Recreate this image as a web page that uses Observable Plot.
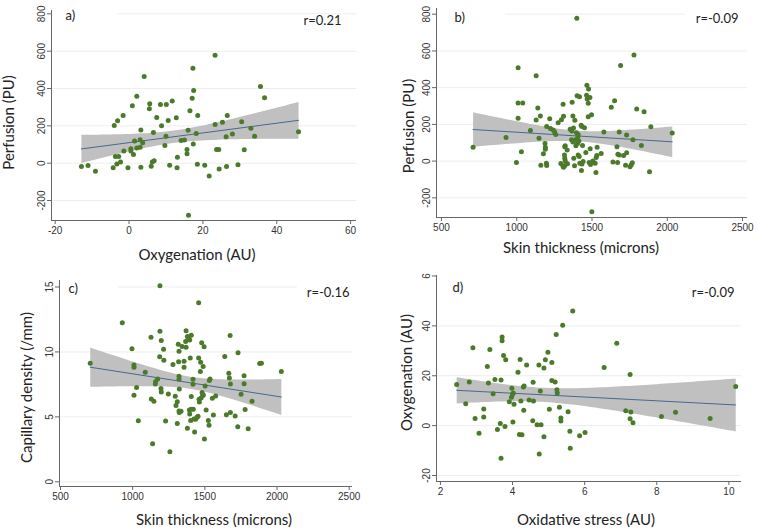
<!DOCTYPE html>
<html>
<head>
<meta charset="utf-8">
<script src="https://cdn.jsdelivr.net/npm/d3@7"></script>
<script src="https://cdn.jsdelivr.net/npm/@observablehq/plot@0.6"></script>
<style>
  body { margin: 0; background: #fff; }
  #wrap { position: relative; width: 758px; height: 530px; background: #fff; overflow: hidden; }
  .panel { position: absolute; }
</style>
</head>
<body>
<div id="wrap">
  <div class="panel" id="pa" style="left:0px;top:0px"></div>
  <div class="panel" id="pb" style="left:378px;top:0px"></div>
  <div class="panel" id="pc" style="left:0px;top:265px"></div>
  <div class="panel" id="pd" style="left:378px;top:265px"></div>
</div>
<script>
// ---- Data: [x, y] pairs ----
// a) Oxygenation (AU) vs Perfusion (PU)
const panelAData = [
  [-12.9,-18],[-11.1,-13],[-9.1,-43],[-4.0,202],[-3.1,227],[-1.6,256],[-4.3,-25],[-3.7,36],[-2.8,36],[-3.3,-4],
  [-2.3,7],[-1.4,65],[-0.3,-25],[0.5,77],[0.5,65],[0.9,308],[2.1,359],[1.5,119],[1.2,47],[2.1,81],
  [3.0,85],[3.2,178],[3.0,126],[3.7,110],[4.1,465],[3.2,-22],[5.6,319],[5.5,292],[6.0,-16],[6.3,7],
  [6.8,13],[6.6,164],[7.5,245],[8.5,315],[8.8,200],[10.1,315],[9.7,95],[10.0,144],[10.6,229],[11.0,-11],
  [11.7,333],[12.8,243],[13.1,32],[13.0,-25],[14.1,121],[15.0,124],[15.7,74],[15.7,50],[16.0,177],[16.5,281],
  [16.1,-279],[17.3,508],[17.1,348],[17.5,389],[17.4,103],[18.2,159],[18.6,256],[18.5,-5],[20.5,-11],[21.7,-68],
  [23.3,578],[23.3,207],[23.7,74],[24.3,74],[24.4,-31],[25.3,220],[26.3,141],[26.6,256],[26.4,-18],[28.0,157],
  [29.5,-9],[30.5,222],[31.2,72],[33.0,187],[34.0,144],[35.6,411],[36.7,351],[45.9,168]
];
// b) Skin thickness (microns) vs Perfusion (PU)
const panelBData = [
  [710,76],[929,129],[998,-7],[1009,509],[1009,316],[1040,316],[1009,233],[1031,51],[1091,167],[1129,465],
  [1129,224],[1140,289],[1148,125],[1157,245],[1160,-22],[1177,40],[1188,96],[1190,76],[1190,65],[1197,-11],
  [1199,-24],[1199,189],[1219,231],[1224,178],[1242,169],[1251,160],[1259,145],[1275,209],[1297,225],[1308,309],
  [1311,244],[1293,-13],[1306,-25],[1311,-33],[1319,-25],[1322,84],[1319,78],[1317,33],[1319,16],[1322,2],
  [1335,60],[1337,-15],[1355,173],[1364,116],[1366,164],[1368,320],[1373,245],[1373,104],[1377,180],[1379,16],
  [1384,-25],[1386,222],[1390,116],[1393,84],[1397,155],[1399,778],[1401,356],[1404,96],[1406,131],[1408,33],
  [1415,25],[1417,351],[1419,-11],[1408,145],[1413,109],[1428,195],[1433,189],[1430,-51],[1433,-16],[1441,-2],
  [1437,85],[1450,182],[1459,47],[1464,358],[1468,338],[1466,413],[1475,315],[1477,393],[1481,-7],[1475,242],
  [1488,67],[1490,-18],[1497,253],[1486,347],[1499,-276],[1506,0],[1521,-11],[1526,-62],[1528,20],[1532,31],
  [1534,76],[1561,42],[1579,158],[1628,293],[1639,-5],[1650,329],[1666,78],[1670,-7],[1672,38],[1681,33],
  [1681,158],[1690,520],[1710,31],[1723,-22],[1730,142],[1730,45],[1753,-31],[1761,-20],[1768,-9],[1772,116],
  [1779,578],[1797,284],[1828,85],[1846,269],[1882,-58],[1891,187],[2033,153]
];
// c) Skin thickness (microns) vs Capillary density (/mm)
const panelCData = [
  [706,9.13],[928,12.25],[995,10.24],[1009,9.0],[1009,8.82],[1009,6.66],[1027,7.26],[1039,4.71],[1087,8.44],[1127,11.14],
  [1129,6.38],[1147,6.2],[1138,2.93],[1157,7.54],[1159,7.72],[1173,7.92],[1189,15.1],[1189,11.6],[1187,9.62],[1198,10.88],
  [1196,7.18],[1198,6.92],[1214,10.21],[1216,9.36],[1228,4.68],[1247,6.77],[1258,2.32],[1279,9.03],[1295,6.59],[1300,5.87],
  [1309,6.17],[1309,4.5],[1316,10.6],[1321,10.06],[1318,9.24],[1321,8.13],[1321,7.9],[1323,7.15],[1321,5.45],[1323,5.33],
  [1335,5.43],[1342,10.42],[1356,9.29],[1356,8.82],[1367,10.81],[1370,10.37],[1370,11.63],[1379,11.19],[1379,4.12],[1388,11.06],
  [1395,10.91],[1393,5.53],[1395,5.22],[1399,9.54],[1402,4.73],[1406,5.58],[1406,11.29],[1406,6.56],[1418,7.9],[1418,7.51],
  [1420,5.58],[1425,4.84],[1429,3.83],[1436,4.81],[1446,4.97],[1453,5.04],[1457,13.79],[1457,9.54],[1460,6.35],[1462,6.15],
  [1469,8.49],[1471,9.21],[1474,6.46],[1478,10.7],[1481,6.87],[1485,6.64],[1488,8.88],[1490,6.69],[1495,10.39],[1497,3.29],
  [1502,7.38],[1509,5.53],[1524,4.73],[1529,4.35],[1531,7.8],[1536,7.92],[1552,6.43],[1559,5.15],[1575,6.61],[1638,9.65],
  [1649,5.17],[1666,8.36],[1670,8.0],[1675,11.27],[1677,7.54],[1677,5.33],[1710,5.07],[1730,9.93],[1728,4.24],[1751,6.74],
  [1772,8.16],[1772,7.56],[1779,5.56],[1800,4.09],[1827,6.2],[1880,9.11],[1892,9.13],[2030,8.49]
];
// d) Oxidative stress (AU) vs Oxygenation (AU)
const panelDData = [
  [2.45,16.5],[2.70,8.8],[2.80,17.5],[2.90,31.2],[2.96,2.9],[3.07,-3.1],[3.20,6.7],[3.20,3.5],[3.30,23.7],[3.33,17.1],
  [3.37,30.5],[3.46,12.8],[3.51,18.5],[3.58,-1.5],[3.66,0.9],[3.68,18.3],[3.68,-13.1],[3.71,35.5],[3.71,34.0],[3.75,28.1],
  [3.79,-0.3],[3.81,26.4],[3.91,9.6],[3.97,11.4],[3.98,15.0],[4.00,12.6],[4.01,1.5],[4.02,13.1],[4.04,8.6],[4.15,21.4],
  [4.19,-3.6],[4.21,26.5],[4.23,9.9],[4.26,-3.7],[4.30,15.5],[4.32,15.9],[4.31,6.2],[4.39,24.3],[4.46,10.3],[4.56,2.0],
  [4.57,17.4],[4.58,9.9],[4.68,0.4],[4.73,24.3],[4.74,-11.4],[4.77,13.9],[4.79,0.4],[4.87,23.1],[4.87,-4.5],[4.91,26.4],
  [4.98,29.4],[5.02,6.6],[5.09,25.3],[5.09,18.1],[5.18,17.5],[5.21,36.5],[5.23,14.4],[5.24,13.1],[5.30,7.4],[5.34,3.1],
  [5.34,1.9],[5.39,40.3],[5.54,5.6],[5.59,-2.3],[5.60,-9.1],[5.67,46.0],[5.86,-4.1],[6.01,-2.8],[6.54,23.3],[6.89,33.0],
  [7.14,6.0],[7.26,20.5],[7.26,2.8],[7.28,5.5],[7.34,1.2],[8.13,3.7],[8.52,5.4],[9.48,2.9],[10.19,15.7]
];

// ---- Ticks and labels ----
const xTicksA = [-20, 0, 20, 40, 60];
const yTicksA = [-200, 0, 200, 400, 600, 800];
const xTicksSkin = [500, 1000, 1500, 2000, 2500];
const yTicksB = [-200, 0, 200, 400, 600, 800];
const yTicksC = [0, 5, 10, 15];
const xTicksD = [2, 4, 6, 8, 10];
const yTicksD = [-20, 0, 20, 40, 60];
const yTickLabelsD = ["-20", "0", "20", "40", "6"];

const panelLetters = ["a)", "b)", "c)", "d)"];
const rLabels = ["r=0.21", "r=-0.09", "r=-0.16", "r=-0.09"];
const xTitles = ["Oxygenation (AU)", "Skin thickness (microns)", "Skin thickness (microns)", "Oxidative stress (AU)"];
const yTitles = ["Perfusion (PU)", "Perfusion (PU)", "Capillary density (/mm)", "Oxygenation (AU)"];

// ---- Styling ----
const DOT = "#4b7a2b";
const LINE = "#46698f";
const BAND = "#c0c0c0";
const GRID = "#ededed";
const AXIS = "#666";
const TITLE_FONT = "Lato, 'Open Sans', sans-serif";

const panels = [
  { el: "pa", data: panelAData, w: 379, h: 265, ml: 51, mr: 23, mt: 10, mb: 45,
    xDomain: [-21, 61.6], yDomain: [-307, 818], xTicks: xTicksA, yTicks: yTicksA, yFmt: d => String(d),
    topGrid: [-3.1, 61.6],
    letter: { dx: 14, dy: 5 }, r: { dx: -15, dy: 10 }, xt: { dx: -7, dy: 35 }, yt: { dx: -42, dy: 7 } },
  { el: "pb", data: panelBData, w: 380, h: 265, ml: 58, mr: 11, mt: 8, mb: 48,
    xDomain: [467, 2533], yDomain: [-307, 831], xTicks: xTicksSkin, yTicks: yTicksB, yFmt: d => String(d),
    topGrid: [924, 2121],
    letter: { dx: 18, dy: 9 }, r: { dx: -9, dy: 10 }, xt: { dx: -11, dy: 31 }, yt: { dx: -27, dy: 13 } },
  { el: "pc", data: panelCData, w: 379, h: 265, ml: 59, mr: 27, mt: 15, mb: 44,
    xDomain: [493, 2523], yDomain: [-0.36, 15.5], xTicks: xTicksSkin, yTicks: yTicksC, yFmt: d => String(d),
    topGrid: [900, 2141],
    letter: { dx: 9, dy: 8 }, r: { dx: -3, dy: 12 }, xt: { dx: 8, dy: 34 }, yt: { dx: -32, dy: 4 } },
  { el: "pd", data: panelDData, w: 380, h: 265, ml: 58, mr: 17, mt: 10, mb: 49,
    xDomain: [1.89, 10.35], yDomain: [-22.4, 60.2], xTicks: xTicksD, yTicks: yTicksD,
    yFmt: d => yTickLabelsD[yTicksD.indexOf(d)],
    topGrid: null,
    letter: { dx: 16, dy: 12 }, r: { dx: -7, dy: 17 }, xt: { dx: -3, dy: 39 }, yt: { dx: -29, dy: -6 } }
];

panels.forEach((p, i) => {
  const top = p.yTicks[p.yTicks.length - 1];
  const gridTicks = p.yTicks.filter(t => t !== top);
  const marks = [
    Plot.ruleY(gridTicks, { stroke: GRID, strokeWidth: 1 }),
    p.topGrid ? Plot.ruleY([top], { x1: p.topGrid[0], x2: p.topGrid[1], stroke: GRID, strokeWidth: 1 }) : null,
    Plot.linearRegressionY(p.data, { x: d => d[0], y: d => d[1], stroke: LINE, strokeWidth: 1, fill: BAND, fillOpacity: 1, ci: 0.95 }),
    Plot.dot(p.data, { x: d => d[0], y: d => d[1], r: 2.5, fill: DOT, stroke: "none" }),
    Plot.ruleX([p.xDomain[0]], { stroke: AXIS, strokeWidth: 1 }),
    Plot.ruleY([p.yDomain[0]], { stroke: AXIS, strokeWidth: 1 }),
    Plot.axisX({ ticks: p.xTicks, tickSize: 4, tickPadding: 2, stroke: AXIS, fill: "#333", fontSize: 10, label: null, tickFormat: d => String(d) }),
    Plot.axisY({ ticks: p.yTicks, tickSize: 4, tickPadding: 3, tickRotate: -90, stroke: AXIS, fill: "#333", fontSize: 10, label: null, tickFormat: p.yFmt }),
    Plot.text([panelLetters[i]], { frameAnchor: "top-left", textAnchor: "start", lineAnchor: "middle", dx: p.letter.dx, dy: p.letter.dy, fontSize: 13, fontFamily: TITLE_FONT, fill: "#222" }),
    Plot.text([rLabels[i]], { frameAnchor: "top-right", textAnchor: "end", lineAnchor: "middle", dx: p.r.dx, dy: p.r.dy, fontSize: 13, fontFamily: TITLE_FONT, fill: "#222" }),
    Plot.text([xTitles[i]], { frameAnchor: "bottom", textAnchor: "middle", lineAnchor: "middle", dx: p.xt.dx, dy: p.xt.dy, fontSize: 15, fontFamily: TITLE_FONT, fill: "#222" }),
    Plot.text([yTitles[i]], { frameAnchor: "left", textAnchor: "middle", lineAnchor: "middle", rotate: -90, dx: p.yt.dx, dy: p.yt.dy, fontSize: 15, fontFamily: TITLE_FONT, fill: "#222" })
  ];
  const svg = Plot.plot({
    width: p.w, height: p.h,
    marginLeft: p.ml, marginRight: p.mr, marginTop: p.mt, marginBottom: p.mb,
    x: { domain: p.xDomain, axis: null },
    y: { domain: p.yDomain, axis: null },
    style: { fontFamily: "'Liberation Sans', Arial, sans-serif", fontSize: "10px", background: "transparent", overflow: "visible" },
    marks: marks.filter(Boolean)
  });
  document.getElementById(p.el).appendChild(svg);
});
</script>
</body>
</html>
